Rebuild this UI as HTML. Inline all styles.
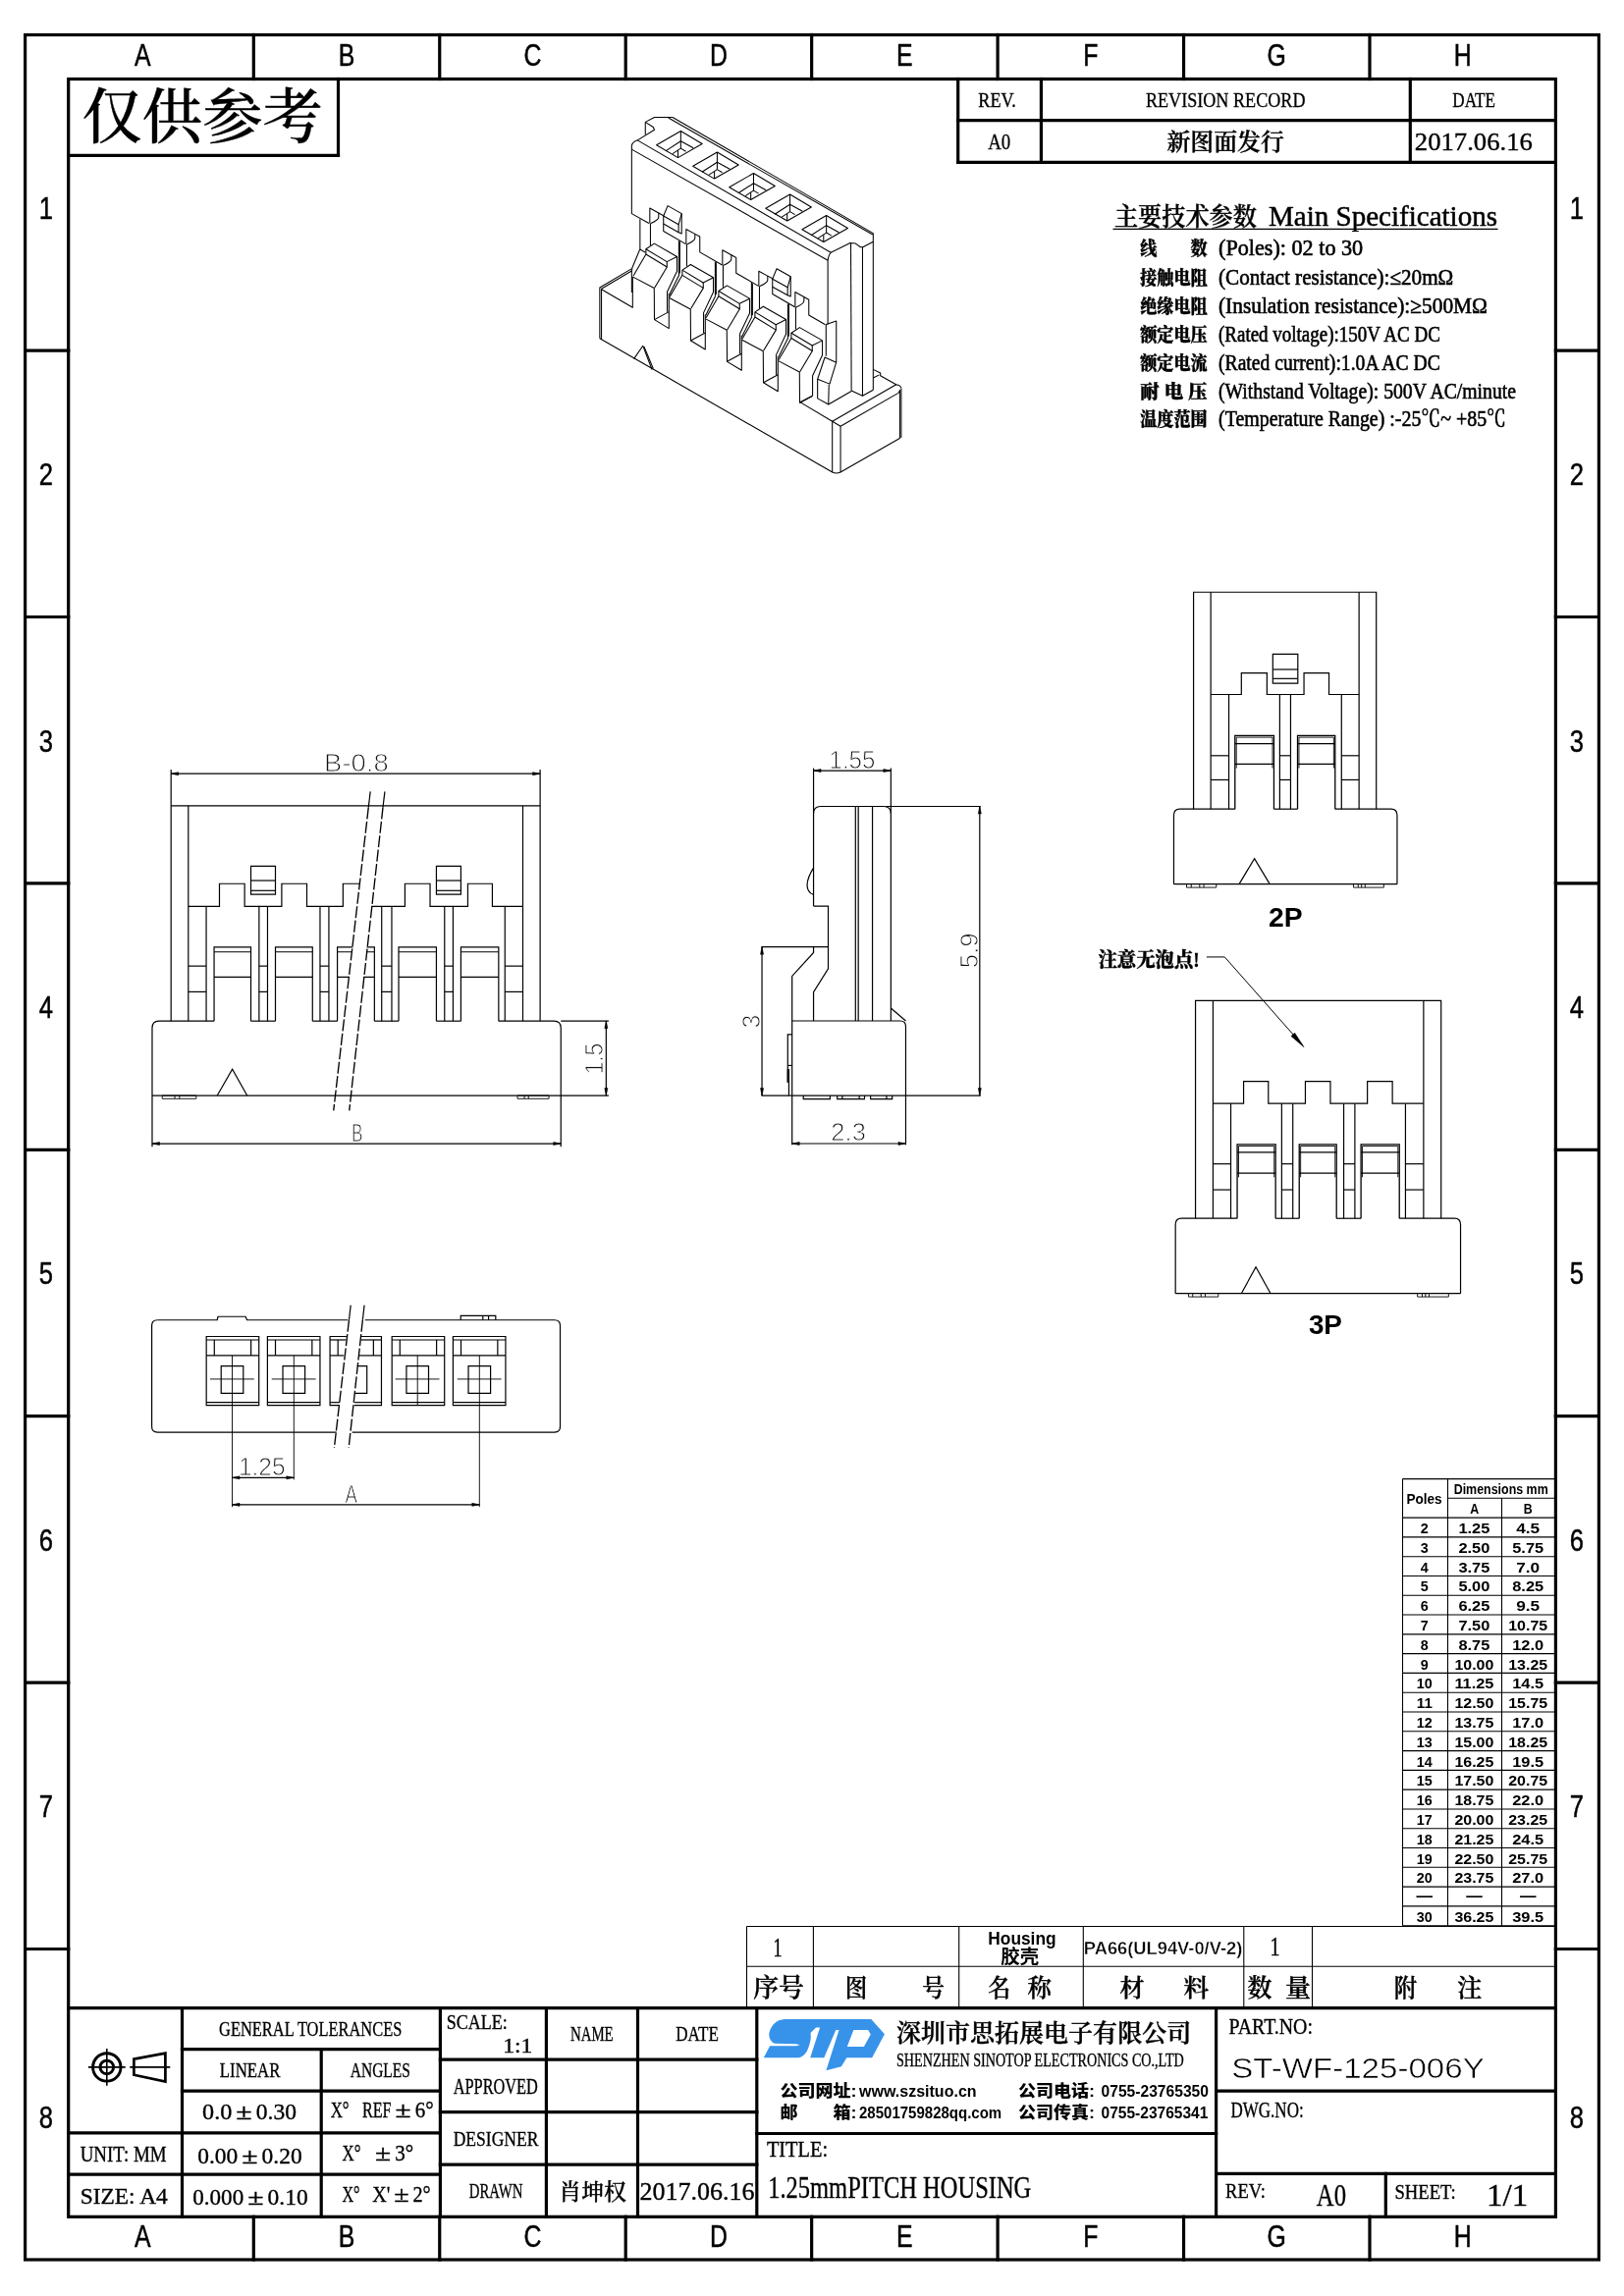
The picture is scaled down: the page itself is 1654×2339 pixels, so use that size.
<!DOCTYPE html>
<html lang="zh"><head><meta charset="utf-8"><title>ST-WF-125-006Y</title>
<style>
html,body{margin:0;padding:0;background:#fff}
svg{display:block}
text{filter:grayscale(1)}
text{fill:#000;stroke:none}
.s{font-family:"Liberation Serif","Noto Serif CJK SC",serif;stroke:#000;stroke-width:.35px}
.g{font-family:"Liberation Sans","Noto Sans CJK SC",sans-serif}
.z{stroke:#000;stroke-width:.5px}
.m{font-family:"Liberation Mono","Noto Sans CJK SC",monospace}
.d{fill:#111;stroke:#fff;stroke-width:0.9px}
</style></head><body>
<svg width="1654" height="2339" viewBox="0 0 1654 2339" fill="none" stroke="#000" stroke-width="1.2" stroke-linecap="butt">
<rect x="0" y="0" width="1654" height="2339" fill="#fff" stroke="none"/>
<g stroke-width="3.2" stroke-linecap="square">
<rect x="25.6" y="35.5" width="1602.8" height="2266.5"/>
<rect x="69.7" y="80.5" width="1514.7" height="2177.8"/>
<line x1="258.3" y1="35.5" x2="258.3" y2="80.5"/>
<line x1="258.3" y1="2258.3" x2="258.3" y2="2302"/>
<line x1="447.75" y1="35.5" x2="447.75" y2="80.5"/>
<line x1="447.75" y1="2258.3" x2="447.75" y2="2302"/>
<line x1="637.2" y1="35.5" x2="637.2" y2="80.5"/>
<line x1="637.2" y1="2258.3" x2="637.2" y2="2302"/>
<line x1="826.65" y1="35.5" x2="826.65" y2="80.5"/>
<line x1="826.65" y1="2258.3" x2="826.65" y2="2302"/>
<line x1="1016.1" y1="35.5" x2="1016.1" y2="80.5"/>
<line x1="1016.1" y1="2258.3" x2="1016.1" y2="2302"/>
<line x1="1205.55" y1="35.5" x2="1205.55" y2="80.5"/>
<line x1="1205.55" y1="2258.3" x2="1205.55" y2="2302"/>
<line x1="1395" y1="35.5" x2="1395" y2="80.5"/>
<line x1="1395" y1="2258.3" x2="1395" y2="2302"/>
<line x1="25.6" y1="357.1" x2="69.7" y2="357.1"/>
<line x1="1584.4" y1="357.1" x2="1628.4" y2="357.1"/>
<line x1="25.6" y1="628.5" x2="69.7" y2="628.5"/>
<line x1="1584.4" y1="628.5" x2="1628.4" y2="628.5"/>
<line x1="25.6" y1="899.9" x2="69.7" y2="899.9"/>
<line x1="1584.4" y1="899.9" x2="1628.4" y2="899.9"/>
<line x1="25.6" y1="1171.3" x2="69.7" y2="1171.3"/>
<line x1="1584.4" y1="1171.3" x2="1628.4" y2="1171.3"/>
<line x1="25.6" y1="1442.7" x2="69.7" y2="1442.7"/>
<line x1="1584.4" y1="1442.7" x2="1628.4" y2="1442.7"/>
<line x1="25.6" y1="1714.1" x2="69.7" y2="1714.1"/>
<line x1="1584.4" y1="1714.1" x2="1628.4" y2="1714.1"/>
<line x1="25.6" y1="1985.5" x2="69.7" y2="1985.5"/>
<line x1="1584.4" y1="1985.5" x2="1628.4" y2="1985.5"/>
<line x1="344.5" y1="80.5" x2="344.5" y2="158.3"/>
<line x1="69.7" y1="158.3" x2="344.5" y2="158.3"/>
<line x1="975.7" y1="80.5" x2="975.7" y2="165.3"/>
<line x1="1060.4" y1="80.5" x2="1060.4" y2="165.3"/>
<line x1="1436.3" y1="80.5" x2="1436.3" y2="165.3"/>
<line x1="975.7" y1="122.6" x2="1584.4" y2="122.6"/>
<line x1="975.7" y1="165.3" x2="1584.4" y2="165.3"/>
<line x1="69.7" y1="2045.6" x2="1584.4" y2="2045.6"/>
<line x1="185.5" y1="2045.6" x2="185.5" y2="2258.3"/>
<line x1="448.4" y1="2045.6" x2="448.4" y2="2258.3"/>
<line x1="556.4" y1="2045.6" x2="556.4" y2="2258.3"/>
<line x1="649.5" y1="2045.6" x2="649.5" y2="2258.3"/>
<line x1="770.8" y1="2045.6" x2="770.8" y2="2258.3"/>
<line x1="1238.6" y1="2045.6" x2="1238.6" y2="2258.3"/>
<line x1="327.2" y1="2087.6" x2="327.2" y2="2258.3"/>
<line x1="185.5" y1="2087.6" x2="448.4" y2="2087.6"/>
<line x1="185.5" y1="2130.1" x2="448.4" y2="2130.1"/>
<line x1="69.7" y1="2172.9" x2="448.4" y2="2172.9"/>
<line x1="69.7" y1="2215.1" x2="448.4" y2="2215.1"/>
<line x1="448.4" y1="2098.1" x2="770.8" y2="2098.1"/>
<line x1="448.4" y1="2151.6" x2="770.8" y2="2151.6"/>
<line x1="448.4" y1="2205.2" x2="770.8" y2="2205.2"/>
<line x1="770.8" y1="2173.5" x2="1238.6" y2="2173.5"/>
<line x1="1238.6" y1="2130.2" x2="1584.4" y2="2130.2"/>
<line x1="1238.6" y1="2214.4" x2="1584.4" y2="2214.4"/>
<line x1="1411.3" y1="2214.4" x2="1411.3" y2="2258.3"/>
</g>
<text x="145.3" y="66.6" font-size="31" class="g z" text-anchor="middle" transform="translate(145.3 0) scale(0.8 1) translate(-145.3 0)">A</text>
<text x="145.3" y="2289.5" font-size="31" class="g z" text-anchor="middle" transform="translate(145.3 0) scale(0.8 1) translate(-145.3 0)">A</text>
<text x="353" y="66.6" font-size="31" class="g z" text-anchor="middle" transform="translate(353 0) scale(0.8 1) translate(-353 0)">B</text>
<text x="353" y="2289.5" font-size="31" class="g z" text-anchor="middle" transform="translate(353 0) scale(0.8 1) translate(-353 0)">B</text>
<text x="542.45" y="66.6" font-size="31" class="g z" text-anchor="middle" transform="translate(542.45 0) scale(0.8 1) translate(-542.45 0)">C</text>
<text x="542.45" y="2289.5" font-size="31" class="g z" text-anchor="middle" transform="translate(542.45 0) scale(0.8 1) translate(-542.45 0)">C</text>
<text x="731.9" y="66.6" font-size="31" class="g z" text-anchor="middle" transform="translate(731.9 0) scale(0.8 1) translate(-731.9 0)">D</text>
<text x="731.9" y="2289.5" font-size="31" class="g z" text-anchor="middle" transform="translate(731.9 0) scale(0.8 1) translate(-731.9 0)">D</text>
<text x="921.35" y="66.6" font-size="31" class="g z" text-anchor="middle" transform="translate(921.35 0) scale(0.8 1) translate(-921.35 0)">E</text>
<text x="921.35" y="2289.5" font-size="31" class="g z" text-anchor="middle" transform="translate(921.35 0) scale(0.8 1) translate(-921.35 0)">E</text>
<text x="1110.8" y="66.6" font-size="31" class="g z" text-anchor="middle" transform="translate(1110.8 0) scale(0.8 1) translate(-1110.8 0)">F</text>
<text x="1110.8" y="2289.5" font-size="31" class="g z" text-anchor="middle" transform="translate(1110.8 0) scale(0.8 1) translate(-1110.8 0)">F</text>
<text x="1300.25" y="66.6" font-size="31" class="g z" text-anchor="middle" transform="translate(1300.25 0) scale(0.8 1) translate(-1300.25 0)">G</text>
<text x="1300.25" y="2289.5" font-size="31" class="g z" text-anchor="middle" transform="translate(1300.25 0) scale(0.8 1) translate(-1300.25 0)">G</text>
<text x="1489.7" y="66.6" font-size="31" class="g z" text-anchor="middle" transform="translate(1489.7 0) scale(0.8 1) translate(-1489.7 0)">H</text>
<text x="1489.7" y="2289.5" font-size="31" class="g z" text-anchor="middle" transform="translate(1489.7 0) scale(0.8 1) translate(-1489.7 0)">H</text>
<text x="46.8" y="222.9" font-size="32" class="g z" text-anchor="middle" transform="translate(46.8 0) scale(0.8 1) translate(-46.8 0)">1</text>
<text x="1606" y="222.9" font-size="32" class="g z" text-anchor="middle" transform="translate(1606 0) scale(0.8 1) translate(-1606 0)">1</text>
<text x="46.8" y="494.3" font-size="32" class="g z" text-anchor="middle" transform="translate(46.8 0) scale(0.8 1) translate(-46.8 0)">2</text>
<text x="1606" y="494.3" font-size="32" class="g z" text-anchor="middle" transform="translate(1606 0) scale(0.8 1) translate(-1606 0)">2</text>
<text x="46.8" y="765.7" font-size="32" class="g z" text-anchor="middle" transform="translate(46.8 0) scale(0.8 1) translate(-46.8 0)">3</text>
<text x="1606" y="765.7" font-size="32" class="g z" text-anchor="middle" transform="translate(1606 0) scale(0.8 1) translate(-1606 0)">3</text>
<text x="46.8" y="1037.1" font-size="32" class="g z" text-anchor="middle" transform="translate(46.8 0) scale(0.8 1) translate(-46.8 0)">4</text>
<text x="1606" y="1037.1" font-size="32" class="g z" text-anchor="middle" transform="translate(1606 0) scale(0.8 1) translate(-1606 0)">4</text>
<text x="46.8" y="1308.5" font-size="32" class="g z" text-anchor="middle" transform="translate(46.8 0) scale(0.8 1) translate(-46.8 0)">5</text>
<text x="1606" y="1308.5" font-size="32" class="g z" text-anchor="middle" transform="translate(1606 0) scale(0.8 1) translate(-1606 0)">5</text>
<text x="46.8" y="1579.9" font-size="32" class="g z" text-anchor="middle" transform="translate(46.8 0) scale(0.8 1) translate(-46.8 0)">6</text>
<text x="1606" y="1579.9" font-size="32" class="g z" text-anchor="middle" transform="translate(1606 0) scale(0.8 1) translate(-1606 0)">6</text>
<text x="46.8" y="1851.3" font-size="32" class="g z" text-anchor="middle" transform="translate(46.8 0) scale(0.8 1) translate(-46.8 0)">7</text>
<text x="1606" y="1851.3" font-size="32" class="g z" text-anchor="middle" transform="translate(1606 0) scale(0.8 1) translate(-1606 0)">7</text>
<text x="46.8" y="2167.6" font-size="32" class="g z" text-anchor="middle" transform="translate(46.8 0) scale(0.8 1) translate(-46.8 0)">8</text>
<text x="1606" y="2167.6" font-size="32" class="g z" text-anchor="middle" transform="translate(1606 0) scale(0.8 1) translate(-1606 0)">8</text>
<text x="83.5" y="140.5" font-size="61.5" class="s" textLength="245.5" lengthAdjust="spacingAndGlyphs" font-weight="500">仅供参考</text>
<text x="996.3" y="108.6" font-size="22" class="s" textLength="38.5" lengthAdjust="spacingAndGlyphs">REV.</text>
<text x="1166.9" y="108.6" font-size="22" class="s" textLength="162.6" lengthAdjust="spacingAndGlyphs">REVISION RECORD</text>
<text x="1479.3" y="108.9" font-size="22" class="s" textLength="43.7" lengthAdjust="spacingAndGlyphs">DATE</text>
<text x="1006.2" y="152.4" font-size="24" class="s" textLength="23.1" lengthAdjust="spacingAndGlyphs">A0</text>
<text x="1188.4" y="152.6" font-size="23.9" class="s" textLength="119.5" lengthAdjust="spacingAndGlyphs" font-weight="600">新图面发行</text>
<text x="1440.8" y="153" font-size="25.5" class="s" textLength="120.1" lengthAdjust="spacingAndGlyphs">2017.06.16</text>
<text x="223.1" y="2073.8" font-size="22" class="s" textLength="186.2" lengthAdjust="spacingAndGlyphs">GENERAL TOLERANCES</text>
<text x="223.8" y="2115.7" font-size="21" class="s" textLength="61.6" lengthAdjust="spacingAndGlyphs">LINEAR</text>
<text x="356.8" y="2115.7" font-size="21" class="s" textLength="61.1" lengthAdjust="spacingAndGlyphs">ANGLES</text>
<text x="206.11" y="2158.6" font-size="23" class="s" textLength="30.22" lengthAdjust="spacingAndGlyphs">0.0</text>
<text x="240.39" y="2158.6" font-size="23" class="s" textLength="16.42" lengthAdjust="spacingAndGlyphs">±</text>
<text x="260.86" y="2158.6" font-size="23" class="s" textLength="41.17" lengthAdjust="spacingAndGlyphs">0.30</text>
<text x="336.69" y="2156.8" font-size="23" class="s" textLength="18.92" lengthAdjust="spacingAndGlyphs">X°</text>
<text x="368.94" y="2156.8" font-size="23" class="s" textLength="29.67" lengthAdjust="spacingAndGlyphs">REF</text>
<text x="402.59" y="2156.8" font-size="23" class="s" textLength="16.12" lengthAdjust="spacingAndGlyphs">±</text>
<text x="422.69" y="2156.8" font-size="23" class="s" textLength="18.92" lengthAdjust="spacingAndGlyphs">6°</text>
<text x="81.7" y="2201.9" font-size="22.5" class="s" textLength="87.9" lengthAdjust="spacingAndGlyphs">UNIT: MM</text>
<text x="201.21" y="2203.6" font-size="23" class="s" textLength="40.98" lengthAdjust="spacingAndGlyphs">0.00</text>
<text x="246.22" y="2203.6" font-size="23" class="s" textLength="16.35" lengthAdjust="spacingAndGlyphs">±</text>
<text x="266.61" y="2203.6" font-size="23" class="s" textLength="40.98" lengthAdjust="spacingAndGlyphs">0.20</text>
<text x="348.49" y="2201" font-size="23" class="s" textLength="18.92" lengthAdjust="spacingAndGlyphs">X°</text>
<text x="382.14" y="2201" font-size="23" class="s" textLength="16.12" lengthAdjust="spacingAndGlyphs">±</text>
<text x="402.24" y="2201" font-size="23" class="s" textLength="18.92" lengthAdjust="spacingAndGlyphs">3°</text>
<text x="81.7" y="2244.8" font-size="22.5" class="s" textLength="89.1" lengthAdjust="spacingAndGlyphs">SIZE: A4</text>
<text x="196.31" y="2245.5" font-size="23" class="s" textLength="51.88" lengthAdjust="spacingAndGlyphs">0.000</text>
<text x="252.22" y="2245.5" font-size="23" class="s" textLength="16.35" lengthAdjust="spacingAndGlyphs">±</text>
<text x="272.61" y="2245.5" font-size="23" class="s" textLength="40.98" lengthAdjust="spacingAndGlyphs">0.10</text>
<text x="348.44" y="2243" font-size="23" class="s" textLength="18.13" lengthAdjust="spacingAndGlyphs">X°</text>
<text x="379.34" y="2243" font-size="23" class="s" textLength="18.13" lengthAdjust="spacingAndGlyphs">X'</text>
<text x="401.28" y="2243" font-size="23" class="s" textLength="15.45" lengthAdjust="spacingAndGlyphs">±</text>
<text x="420.54" y="2243" font-size="23" class="s" textLength="18.13" lengthAdjust="spacingAndGlyphs">2°</text>
<text x="454.8" y="2067.4" font-size="22" class="s" textLength="62" lengthAdjust="spacingAndGlyphs">SCALE:</text>
<text x="512.2" y="2091.1" font-size="22" class="s" textLength="30" lengthAdjust="spacingAndGlyphs">1:1</text>
<text x="580.9" y="2078.8" font-size="22" class="s" textLength="43.8" lengthAdjust="spacingAndGlyphs">NAME</text>
<text x="688.3" y="2079.3" font-size="22" class="s" textLength="43.6" lengthAdjust="spacingAndGlyphs">DATE</text>
<text x="461.7" y="2132.7" font-size="23" class="s" textLength="86.2" lengthAdjust="spacingAndGlyphs">APPROVED</text>
<text x="461.7" y="2185.7" font-size="22" class="s" textLength="86.7" lengthAdjust="spacingAndGlyphs">DESIGNER</text>
<text x="477.7" y="2239.4" font-size="22" class="s" textLength="54.7" lengthAdjust="spacingAndGlyphs">DRAWN</text>
<text x="569.3" y="2241.3" font-size="23.2" class="s" textLength="68.5" lengthAdjust="spacingAndGlyphs" font-weight="500">肖坤权</text>
<text x="651.6" y="2240.6" font-size="26" class="s" textLength="117" lengthAdjust="spacingAndGlyphs">2017.06.16</text>
<g stroke-width="2.9">
<circle cx="108.8" cy="2105.9" r="14.2"/>
<circle cx="108.8" cy="2105.9" r="6.8"/>
</g>
<g stroke-width="1.6">
<line x1="90" y1="2105.9" x2="127.7" y2="2105.9"/>
<line x1="108.8" y1="2087" x2="108.8" y2="2124.8"/>
<line x1="132.2" y1="2105.9" x2="173.3" y2="2105.9"/>
</g>
<path d="M136.4 2097.7 L168.4 2091.6 L168.4 2120.6 L136.4 2113.7 Z" stroke-width="2.7"/>
<g fill="#3793ea" stroke="none">
<path d="M799.4 2057.1 C790 2057.8 786.5 2063 784.1 2068.6 C782.3 2073.5 783.5 2079.5 788.9 2081.8 L811 2082.2 L814.8 2083.2 L811 2084.3 L784.1 2084.3 L777.8 2096.3 L811 2096.3 C817.5 2096.3 821 2092 823.2 2086.4 C825.2 2081 826.6 2075.5 825.5 2071 L831 2065.5 L831 2057.1 Z"/>
<path fill-rule="evenodd" d="M820 2057.1 L887.3 2057.1 L900.9 2072.2 L888.2 2096.2 L862.4 2096.2 L856.8 2105.3 L841.4 2109.2 L854.5 2067.9 L851.3 2067.9 L839.3 2096.3 L825.2 2096.3 L835.1 2065.5 L820 2065.5 Z M869.3 2067.9 L884.1 2067.9 L886.8 2072.5 L879.9 2084.9 L862.8 2084.9 Z"/>
</g>
<text x="913" y="2079.5" font-size="25" class="s" textLength="300.2" lengthAdjust="spacingAndGlyphs" font-weight="600">深圳市思拓展电子有限公司</text>
<text x="913" y="2104.8" font-size="19.5" class="s" textLength="292.8" lengthAdjust="spacingAndGlyphs">SHENZHEN SINOTOP ELECTRONICS CO.,LTD</text>
<text x="794.5" y="2135.6" font-size="16.5" class="g" textLength="78" lengthAdjust="spacingAndGlyphs" font-weight="900">公司网址:</text>
<text x="875" y="2135.6" font-size="17" class="g" textLength="119.6" lengthAdjust="spacingAndGlyphs" font-weight="700">www.szsituo.cn</text>
<text x="794.5" y="2158.2" font-size="16.5" class="g" textLength="78" lengthAdjust="spacingAndGlyphs" font-weight="900">邮　　箱:</text>
<text x="875" y="2158.2" font-size="17" class="g" textLength="145.2" lengthAdjust="spacingAndGlyphs" font-weight="700">28501759828qq.com</text>
<text x="1037.1" y="2135.6" font-size="16.5" class="g" textLength="78" lengthAdjust="spacingAndGlyphs" font-weight="900">公司电话:</text>
<text x="1121.5" y="2135.6" font-size="17" class="g" textLength="109.5" lengthAdjust="spacingAndGlyphs" font-weight="700">0755-23765350</text>
<text x="1037.1" y="2158.2" font-size="16.5" class="g" textLength="78" lengthAdjust="spacingAndGlyphs" font-weight="900">公司传真:</text>
<text x="1121.5" y="2158.2" font-size="17" class="g" textLength="108.9" lengthAdjust="spacingAndGlyphs" font-weight="700">0755-23765341</text>
<text x="780.9" y="2197.2" font-size="23" class="s" textLength="62.2" lengthAdjust="spacingAndGlyphs">TITLE:</text>
<text x="782.2" y="2238.7" font-size="31" class="s" textLength="268.1" lengthAdjust="spacingAndGlyphs">1.25mmPITCH HOUSING</text>
<text x="1251.5" y="2072" font-size="22.5" class="s" textLength="85.5" lengthAdjust="spacingAndGlyphs">PART.NO:</text>
<text x="1254.2" y="2116.9" font-size="30" class="g" textLength="257.6" lengthAdjust="spacingAndGlyphs" fill="#111" style="stroke:#fff;stroke-width:.55px">ST-WF-125-006Y</text>
<text x="1253.4" y="2156.9" font-size="22.5" class="s" textLength="74.3" lengthAdjust="spacingAndGlyphs">DWG.NO:</text>
<text x="1248.1" y="2239.2" font-size="22" class="s" textLength="40.8" lengthAdjust="spacingAndGlyphs">REV:</text>
<text x="1340.8" y="2246.5" font-size="31" class="s" textLength="30.2" lengthAdjust="spacingAndGlyphs">A0</text>
<text x="1420.4" y="2239.8" font-size="22" class="s" textLength="62.3" lengthAdjust="spacingAndGlyphs">SHEET:</text>
<text x="1514" y="2246.5" font-size="32" class="s" textLength="42.2" lengthAdjust="spacingAndGlyphs">1/1</text>
<g stroke-width="1.1">
<line x1="760.5" y1="1962.5" x2="1584.4" y2="1962.5"/>
<line x1="760.5" y1="2003.3" x2="1584.4" y2="2003.3"/>
<line x1="760.5" y1="1962.5" x2="760.5" y2="2045.6"/>
<line x1="828.4" y1="1962.5" x2="828.4" y2="2045.6"/>
<line x1="976.7" y1="1962.5" x2="976.7" y2="2045.6"/>
<line x1="1103.3" y1="1962.5" x2="1103.3" y2="2045.6"/>
<line x1="1266.8" y1="1962.5" x2="1266.8" y2="2045.6"/>
<line x1="1336.5" y1="1962.5" x2="1336.5" y2="2045.6"/>
</g>
<text x="787.4" y="1992.9" font-size="27" class="s" textLength="9" lengthAdjust="spacingAndGlyphs">1</text>
<text x="1293.5" y="1992.4" font-size="27" class="s" textLength="10" lengthAdjust="spacingAndGlyphs">1</text>
<text x="767.2" y="2033.5" font-size="26.5" class="s" textLength="51.5" lengthAdjust="spacingAndGlyphs" font-weight="600">序号</text>
<text x="860.8" y="2033.5" font-size="25" class="s" textLength="22.5" lengthAdjust="spacingAndGlyphs" font-weight="600">图</text>
<text x="939.3" y="2033.5" font-size="25" class="s" textLength="22.7" lengthAdjust="spacingAndGlyphs" font-weight="600">号</text>
<text x="1006.3" y="2033.5" font-size="25" class="s" textLength="23" lengthAdjust="spacingAndGlyphs" font-weight="600">名</text>
<text x="1046.5" y="2033.5" font-size="25" class="s" textLength="24.4" lengthAdjust="spacingAndGlyphs" font-weight="600">称</text>
<text x="1140.5" y="2033.5" font-size="25" class="s" textLength="25" lengthAdjust="spacingAndGlyphs" font-weight="600">材</text>
<text x="1205.6" y="2033.5" font-size="25" class="s" textLength="25.7" lengthAdjust="spacingAndGlyphs" font-weight="600">料</text>
<text x="1270.5" y="2033.5" font-size="25" class="s" textLength="25" lengthAdjust="spacingAndGlyphs" font-weight="600">数</text>
<text x="1309" y="2033.5" font-size="25" class="s" textLength="26" lengthAdjust="spacingAndGlyphs" font-weight="600">量</text>
<text x="1419.8" y="2033.5" font-size="25" class="s" textLength="23.5" lengthAdjust="spacingAndGlyphs" font-weight="600">附</text>
<text x="1484.2" y="2033.5" font-size="25" class="s" textLength="25" lengthAdjust="spacingAndGlyphs" font-weight="600">注</text>
<text x="1006.3" y="1981" font-size="17.5" class="g" textLength="69.3" lengthAdjust="spacingAndGlyphs" font-weight="700">Housing</text>
<text x="1019.3" y="1999.8" font-size="19" class="g" textLength="38.8" lengthAdjust="spacingAndGlyphs" font-weight="700">胶壳</text>
<text x="1103.8" y="1990.8" font-size="19" class="g" textLength="161.5" lengthAdjust="spacingAndGlyphs" font-weight="700" style="stroke:#fff;stroke-width:.4px">PA66(UL94V-0/V-2)</text>
<g stroke-width="1.1">
<line x1="1428.5" y1="1506.6" x2="1584.4" y2="1506.6"/>
<line x1="1474.5" y1="1526.3" x2="1584.4" y2="1526.3"/>
<line x1="1428.5" y1="1546.1" x2="1584.4" y2="1546.1"/>
<line x1="1428.5" y1="1565.89" x2="1584.4" y2="1565.89"/>
<line x1="1428.5" y1="1585.68" x2="1584.4" y2="1585.68"/>
<line x1="1428.5" y1="1605.47" x2="1584.4" y2="1605.47"/>
<line x1="1428.5" y1="1625.26" x2="1584.4" y2="1625.26"/>
<line x1="1428.5" y1="1645.05" x2="1584.4" y2="1645.05"/>
<line x1="1428.5" y1="1664.84" x2="1584.4" y2="1664.84"/>
<line x1="1428.5" y1="1684.63" x2="1584.4" y2="1684.63"/>
<line x1="1428.5" y1="1704.42" x2="1584.4" y2="1704.42"/>
<line x1="1428.5" y1="1724.21" x2="1584.4" y2="1724.21"/>
<line x1="1428.5" y1="1744" x2="1584.4" y2="1744"/>
<line x1="1428.5" y1="1763.79" x2="1584.4" y2="1763.79"/>
<line x1="1428.5" y1="1783.58" x2="1584.4" y2="1783.58"/>
<line x1="1428.5" y1="1803.37" x2="1584.4" y2="1803.37"/>
<line x1="1428.5" y1="1823.16" x2="1584.4" y2="1823.16"/>
<line x1="1428.5" y1="1842.95" x2="1584.4" y2="1842.95"/>
<line x1="1428.5" y1="1862.74" x2="1584.4" y2="1862.74"/>
<line x1="1428.5" y1="1882.53" x2="1584.4" y2="1882.53"/>
<line x1="1428.5" y1="1902.32" x2="1584.4" y2="1902.32"/>
<line x1="1428.5" y1="1922.11" x2="1584.4" y2="1922.11"/>
<line x1="1428.5" y1="1941.9" x2="1584.4" y2="1941.9"/>
<line x1="1428.5" y1="1961.69" x2="1584.4" y2="1961.69"/>
<line x1="1428.5" y1="1506.6" x2="1428.5" y2="1961.69"/>
<line x1="1474.5" y1="1506.6" x2="1474.5" y2="1961.69"/>
<line x1="1529.5" y1="1526.3" x2="1529.5" y2="1961.69"/>
</g>
<text x="1432.4" y="1532.3" font-size="15.5" class="g" textLength="36.3" lengthAdjust="spacingAndGlyphs" font-weight="700">Poles</text>
<text x="1480.7" y="1522" font-size="14.5" class="g" textLength="96" lengthAdjust="spacingAndGlyphs" font-weight="700">Dimensions mm</text>
<text x="1501.7" y="1541.9" font-size="15.5" class="g" text-anchor="middle" font-weight="700" transform="translate(1501.7 0) scale(0.8 1) translate(-1501.7 0)">A</text>
<text x="1556.3" y="1541.9" font-size="15.5" class="g" text-anchor="middle" font-weight="700" transform="translate(1556.3 0) scale(0.8 1) translate(-1556.3 0)">B</text>
<text x="1446.8" y="1562.1" font-size="15" class="g" textLength="8" lengthAdjust="spacingAndGlyphs" font-weight="700">2</text>
<text x="1485.4" y="1562.1" font-size="15" class="g" textLength="32" lengthAdjust="spacingAndGlyphs" font-weight="700">1.25</text>
<text x="1544.2" y="1562.1" font-size="15" class="g" textLength="24" lengthAdjust="spacingAndGlyphs" font-weight="700">4.5</text>
<text x="1446.8" y="1581.89" font-size="15" class="g" textLength="8" lengthAdjust="spacingAndGlyphs" font-weight="700">3</text>
<text x="1485.4" y="1581.89" font-size="15" class="g" textLength="32" lengthAdjust="spacingAndGlyphs" font-weight="700">2.50</text>
<text x="1540.2" y="1581.89" font-size="15" class="g" textLength="32" lengthAdjust="spacingAndGlyphs" font-weight="700">5.75</text>
<text x="1446.8" y="1601.68" font-size="15" class="g" textLength="8" lengthAdjust="spacingAndGlyphs" font-weight="700">4</text>
<text x="1485.4" y="1601.68" font-size="15" class="g" textLength="32" lengthAdjust="spacingAndGlyphs" font-weight="700">3.75</text>
<text x="1544.2" y="1601.68" font-size="15" class="g" textLength="24" lengthAdjust="spacingAndGlyphs" font-weight="700">7.0</text>
<text x="1446.8" y="1621.47" font-size="15" class="g" textLength="8" lengthAdjust="spacingAndGlyphs" font-weight="700">5</text>
<text x="1485.4" y="1621.47" font-size="15" class="g" textLength="32" lengthAdjust="spacingAndGlyphs" font-weight="700">5.00</text>
<text x="1540.2" y="1621.47" font-size="15" class="g" textLength="32" lengthAdjust="spacingAndGlyphs" font-weight="700">8.25</text>
<text x="1446.8" y="1641.26" font-size="15" class="g" textLength="8" lengthAdjust="spacingAndGlyphs" font-weight="700">6</text>
<text x="1485.4" y="1641.26" font-size="15" class="g" textLength="32" lengthAdjust="spacingAndGlyphs" font-weight="700">6.25</text>
<text x="1544.2" y="1641.26" font-size="15" class="g" textLength="24" lengthAdjust="spacingAndGlyphs" font-weight="700">9.5</text>
<text x="1446.8" y="1661.05" font-size="15" class="g" textLength="8" lengthAdjust="spacingAndGlyphs" font-weight="700">7</text>
<text x="1485.4" y="1661.05" font-size="15" class="g" textLength="32" lengthAdjust="spacingAndGlyphs" font-weight="700">7.50</text>
<text x="1536.2" y="1661.05" font-size="15" class="g" textLength="40" lengthAdjust="spacingAndGlyphs" font-weight="700">10.75</text>
<text x="1446.8" y="1680.84" font-size="15" class="g" textLength="8" lengthAdjust="spacingAndGlyphs" font-weight="700">8</text>
<text x="1485.4" y="1680.84" font-size="15" class="g" textLength="32" lengthAdjust="spacingAndGlyphs" font-weight="700">8.75</text>
<text x="1540.2" y="1680.84" font-size="15" class="g" textLength="32" lengthAdjust="spacingAndGlyphs" font-weight="700">12.0</text>
<text x="1446.8" y="1700.63" font-size="15" class="g" textLength="8" lengthAdjust="spacingAndGlyphs" font-weight="700">9</text>
<text x="1481.4" y="1700.63" font-size="15" class="g" textLength="40" lengthAdjust="spacingAndGlyphs" font-weight="700">10.00</text>
<text x="1536.2" y="1700.63" font-size="15" class="g" textLength="40" lengthAdjust="spacingAndGlyphs" font-weight="700">13.25</text>
<text x="1442.8" y="1720.42" font-size="15" class="g" textLength="16" lengthAdjust="spacingAndGlyphs" font-weight="700">10</text>
<text x="1481.4" y="1720.42" font-size="15" class="g" textLength="40" lengthAdjust="spacingAndGlyphs" font-weight="700">11.25</text>
<text x="1540.2" y="1720.42" font-size="15" class="g" textLength="32" lengthAdjust="spacingAndGlyphs" font-weight="700">14.5</text>
<text x="1442.8" y="1740.21" font-size="15" class="g" textLength="16" lengthAdjust="spacingAndGlyphs" font-weight="700">11</text>
<text x="1481.4" y="1740.21" font-size="15" class="g" textLength="40" lengthAdjust="spacingAndGlyphs" font-weight="700">12.50</text>
<text x="1536.2" y="1740.21" font-size="15" class="g" textLength="40" lengthAdjust="spacingAndGlyphs" font-weight="700">15.75</text>
<text x="1442.8" y="1760" font-size="15" class="g" textLength="16" lengthAdjust="spacingAndGlyphs" font-weight="700">12</text>
<text x="1481.4" y="1760" font-size="15" class="g" textLength="40" lengthAdjust="spacingAndGlyphs" font-weight="700">13.75</text>
<text x="1540.2" y="1760" font-size="15" class="g" textLength="32" lengthAdjust="spacingAndGlyphs" font-weight="700">17.0</text>
<text x="1442.8" y="1779.79" font-size="15" class="g" textLength="16" lengthAdjust="spacingAndGlyphs" font-weight="700">13</text>
<text x="1481.4" y="1779.79" font-size="15" class="g" textLength="40" lengthAdjust="spacingAndGlyphs" font-weight="700">15.00</text>
<text x="1536.2" y="1779.79" font-size="15" class="g" textLength="40" lengthAdjust="spacingAndGlyphs" font-weight="700">18.25</text>
<text x="1442.8" y="1799.58" font-size="15" class="g" textLength="16" lengthAdjust="spacingAndGlyphs" font-weight="700">14</text>
<text x="1481.4" y="1799.58" font-size="15" class="g" textLength="40" lengthAdjust="spacingAndGlyphs" font-weight="700">16.25</text>
<text x="1540.2" y="1799.58" font-size="15" class="g" textLength="32" lengthAdjust="spacingAndGlyphs" font-weight="700">19.5</text>
<text x="1442.8" y="1819.37" font-size="15" class="g" textLength="16" lengthAdjust="spacingAndGlyphs" font-weight="700">15</text>
<text x="1481.4" y="1819.37" font-size="15" class="g" textLength="40" lengthAdjust="spacingAndGlyphs" font-weight="700">17.50</text>
<text x="1536.2" y="1819.37" font-size="15" class="g" textLength="40" lengthAdjust="spacingAndGlyphs" font-weight="700">20.75</text>
<text x="1442.8" y="1839.16" font-size="15" class="g" textLength="16" lengthAdjust="spacingAndGlyphs" font-weight="700">16</text>
<text x="1481.4" y="1839.16" font-size="15" class="g" textLength="40" lengthAdjust="spacingAndGlyphs" font-weight="700">18.75</text>
<text x="1540.2" y="1839.16" font-size="15" class="g" textLength="32" lengthAdjust="spacingAndGlyphs" font-weight="700">22.0</text>
<text x="1442.8" y="1858.95" font-size="15" class="g" textLength="16" lengthAdjust="spacingAndGlyphs" font-weight="700">17</text>
<text x="1481.4" y="1858.95" font-size="15" class="g" textLength="40" lengthAdjust="spacingAndGlyphs" font-weight="700">20.00</text>
<text x="1536.2" y="1858.95" font-size="15" class="g" textLength="40" lengthAdjust="spacingAndGlyphs" font-weight="700">23.25</text>
<text x="1442.8" y="1878.74" font-size="15" class="g" textLength="16" lengthAdjust="spacingAndGlyphs" font-weight="700">18</text>
<text x="1481.4" y="1878.74" font-size="15" class="g" textLength="40" lengthAdjust="spacingAndGlyphs" font-weight="700">21.25</text>
<text x="1540.2" y="1878.74" font-size="15" class="g" textLength="32" lengthAdjust="spacingAndGlyphs" font-weight="700">24.5</text>
<text x="1442.8" y="1898.53" font-size="15" class="g" textLength="16" lengthAdjust="spacingAndGlyphs" font-weight="700">19</text>
<text x="1481.4" y="1898.53" font-size="15" class="g" textLength="40" lengthAdjust="spacingAndGlyphs" font-weight="700">22.50</text>
<text x="1536.2" y="1898.53" font-size="15" class="g" textLength="40" lengthAdjust="spacingAndGlyphs" font-weight="700">25.75</text>
<text x="1442.8" y="1918.32" font-size="15" class="g" textLength="16" lengthAdjust="spacingAndGlyphs" font-weight="700">20</text>
<text x="1481.4" y="1918.32" font-size="15" class="g" textLength="40" lengthAdjust="spacingAndGlyphs" font-weight="700">23.75</text>
<text x="1540.2" y="1918.32" font-size="15" class="g" textLength="32" lengthAdjust="spacingAndGlyphs" font-weight="700">27.0</text>
<text x="1450.8" y="1936.91" font-size="16.5" class="g" text-anchor="middle" font-weight="700">—</text>
<text x="1501.4" y="1936.91" font-size="16.5" class="g" text-anchor="middle" font-weight="700">—</text>
<text x="1556.2" y="1936.91" font-size="16.5" class="g" text-anchor="middle" font-weight="700">—</text>
<text x="1442.8" y="1957.9" font-size="15" class="g" textLength="16" lengthAdjust="spacingAndGlyphs" font-weight="700">30</text>
<text x="1481.4" y="1957.9" font-size="15" class="g" textLength="40" lengthAdjust="spacingAndGlyphs" font-weight="700">36.25</text>
<text x="1540.2" y="1957.9" font-size="15" class="g" textLength="32" lengthAdjust="spacingAndGlyphs" font-weight="700">39.5</text>
<text x="1134.9" y="229.5" font-size="26.5" class="s" textLength="145" lengthAdjust="spacingAndGlyphs" font-weight="600">主要技术参数</text>
<text x="1292" y="229.5" font-size="29.5" class="s" textLength="233" lengthAdjust="spacingAndGlyphs" style="stroke-width:.5px">Main Specifications</text>
<line x1="1133.5" y1="233.4" x2="1525.6" y2="233.4" stroke-width="1.3"/>
<text x="1161.2" y="260.4" font-size="19" class="s" textLength="68.5" lengthAdjust="spacingAndGlyphs" font-weight="900">线　　数</text>
<text x="1241" y="260.4" font-size="22.5" class="s" textLength="147.2" lengthAdjust="spacingAndGlyphs" style="stroke-width:.6px">(Poles): 02 to 30</text>
<text x="1161.2" y="289.5" font-size="19" class="s" textLength="68.5" lengthAdjust="spacingAndGlyphs" font-weight="900">接触电阻</text>
<text x="1241" y="289.5" font-size="22.5" class="s" textLength="239.3" lengthAdjust="spacingAndGlyphs" style="stroke-width:.6px">(Contact resistance):≤20mΩ</text>
<text x="1161.2" y="318.6" font-size="19" class="s" textLength="68.5" lengthAdjust="spacingAndGlyphs" font-weight="900">绝缘电阻</text>
<text x="1241" y="318.6" font-size="22.5" class="s" textLength="274" lengthAdjust="spacingAndGlyphs" style="stroke-width:.6px">(Insulation resistance):≥500MΩ</text>
<text x="1161.2" y="347.7" font-size="19" class="s" textLength="68.5" lengthAdjust="spacingAndGlyphs" font-weight="900">额定电压</text>
<text x="1241" y="347.7" font-size="22.5" class="s" textLength="225.8" lengthAdjust="spacingAndGlyphs" style="stroke-width:.6px">(Rated voltage):150V AC DC</text>
<text x="1161.2" y="376.8" font-size="19" class="s" textLength="68.5" lengthAdjust="spacingAndGlyphs" font-weight="900">额定电流</text>
<text x="1241" y="376.8" font-size="22.5" class="s" textLength="225.8" lengthAdjust="spacingAndGlyphs" style="stroke-width:.6px">(Rated current):1.0A AC DC</text>
<text x="1161.2" y="405.6" font-size="19" class="s" textLength="68.5" lengthAdjust="spacingAndGlyphs" font-weight="900">耐 电 压</text>
<text x="1241" y="405.6" font-size="22.5" class="s" textLength="303" lengthAdjust="spacingAndGlyphs" style="stroke-width:.6px">(Withstand Voltage): 500V AC/minute</text>
<text x="1161.2" y="434.2" font-size="19" class="s" textLength="68.5" lengthAdjust="spacingAndGlyphs" font-weight="900">温度范围</text>
<text x="1241" y="434.2" font-size="22.5" class="s" textLength="293" lengthAdjust="spacingAndGlyphs" style="stroke-width:.6px">(Temperature Range) :-25℃~ +85℃</text>
<line x1="174.19" y1="784.02" x2="174.19" y2="1040.18"/>
<line x1="550.11" y1="784.02" x2="550.11" y2="1040.18"/>
<line x1="174.19" y1="788.18" x2="550.11" y2="788.18"/>
<path d="M174.19 788.18 L181.69 786.68 L181.69 789.68 Z" stroke-width="0.6" fill="#000"/>
<path d="M550.11 788.18 L542.61 786.68 L542.61 789.68 Z" stroke-width="0.6" fill="#000"/>
<text x="330.13" y="785.62" font-size="25" class="g d" textLength="65.64" lengthAdjust="spacingAndGlyphs">B-0.8</text>
<line x1="174.19" y1="820.84" x2="550.11" y2="820.84"/>
<line x1="191.8" y1="820.84" x2="191.8" y2="1040.18"/>
<line x1="532.5" y1="820.84" x2="532.5" y2="1040.18"/>
<path d="M191.8 923.3 L223.5 923.3 L223.5 900.25 L249.12 900.25 L249.12 923.3 L286.9 923.3 L286.9 900.25 L312.52 900.25 L312.52 923.3 L349.34 923.3 L349.34 900.25 L374.96 900.25 L374.96 923.3 L412.42 923.3 L412.42 900.25 L438.04 900.25 L438.04 923.3 L476.46 923.3 L476.46 900.25 L501.44 900.25 L501.44 923.3 L532.5 923.3"/>
<path d="M255.52 882.32 L280.5 882.32 L280.5 911.14 L255.52 911.14 Z"/>
<line x1="255.52" y1="897.05" x2="280.5" y2="897.05"/>
<line x1="255.52" y1="907.29" x2="280.5" y2="907.29"/>
<path d="M444.44 882.32 L469.42 882.32 L469.42 911.14 L444.44 911.14 Z"/>
<line x1="444.44" y1="897.05" x2="469.42" y2="897.05"/>
<line x1="444.44" y1="907.29" x2="469.42" y2="907.29"/>
<line x1="210.05" y1="923.3" x2="210.05" y2="1040.18"/>
<line x1="514.25" y1="923.3" x2="514.25" y2="1040.18"/>
<line x1="263.85" y1="923.3" x2="263.85" y2="1040.18"/>
<line x1="272.49" y1="923.3" x2="272.49" y2="1040.18"/>
<line x1="263.85" y1="984.14" x2="272.49" y2="984.14"/>
<line x1="263.85" y1="1010.4" x2="272.49" y2="1010.4"/>
<line x1="325.97" y1="923.3" x2="325.97" y2="1040.18"/>
<line x1="334.93" y1="923.3" x2="334.93" y2="1040.18"/>
<line x1="325.97" y1="984.14" x2="334.93" y2="984.14"/>
<line x1="325.97" y1="1010.4" x2="334.93" y2="1010.4"/>
<line x1="388.73" y1="923.3" x2="388.73" y2="1040.18"/>
<line x1="398.97" y1="923.3" x2="398.97" y2="1040.18"/>
<line x1="388.73" y1="984.14" x2="398.97" y2="984.14"/>
<line x1="388.73" y1="1010.4" x2="398.97" y2="1010.4"/>
<line x1="452.77" y1="923.3" x2="452.77" y2="1040.18"/>
<line x1="461.41" y1="923.3" x2="461.41" y2="1040.18"/>
<line x1="452.77" y1="984.14" x2="461.41" y2="984.14"/>
<line x1="452.77" y1="1010.4" x2="461.41" y2="1010.4"/>
<line x1="191.8" y1="984.14" x2="210.05" y2="984.14"/>
<line x1="191.8" y1="1010.4" x2="210.05" y2="1010.4"/>
<line x1="514.25" y1="984.14" x2="532.5" y2="984.14"/>
<line x1="514.25" y1="1010.4" x2="532.5" y2="1010.4"/>
<path d="M218.06 1040.18 L218.06 964.93 L255.52 964.93 L255.52 1040.18"/>
<line x1="218.06" y1="969.73" x2="255.52" y2="969.73"/>
<line x1="218.06" y1="995.35" x2="255.52" y2="995.35"/>
<path d="M280.5 1040.18 L280.5 964.93 L318.28 964.93 L318.28 1040.18"/>
<line x1="280.5" y1="969.73" x2="318.28" y2="969.73"/>
<line x1="280.5" y1="995.35" x2="318.28" y2="995.35"/>
<path d="M343.58 1040.18 L343.58 964.93 L381.36 964.93 L381.36 1040.18"/>
<line x1="343.58" y1="969.73" x2="381.36" y2="969.73"/>
<line x1="343.58" y1="995.35" x2="381.36" y2="995.35"/>
<path d="M406.02 1040.18 L406.02 964.93 L444.44 964.93 L444.44 1040.18"/>
<line x1="406.02" y1="969.73" x2="444.44" y2="969.73"/>
<line x1="406.02" y1="995.35" x2="444.44" y2="995.35"/>
<path d="M469.42 1040.18 L469.42 964.93 L507.84 964.93 L507.84 1040.18"/>
<line x1="469.42" y1="969.73" x2="507.84" y2="969.73"/>
<line x1="469.42" y1="995.35" x2="507.84" y2="995.35"/>
<path d="M154.98 1116.07 L154.98 1047.22 Q154.98 1040.18 162.02 1040.18 L218.06 1040.18"/>
<path d="M571.24 1116.07 L571.24 1047.22 Q571.24 1040.18 564.2 1040.18 L507.84 1040.18"/>
<line x1="255.52" y1="1040.18" x2="280.5" y2="1040.18"/>
<line x1="318.28" y1="1040.18" x2="343.58" y2="1040.18"/>
<line x1="381.36" y1="1040.18" x2="406.02" y2="1040.18"/>
<line x1="444.44" y1="1040.18" x2="469.42" y2="1040.18"/>
<line x1="154.98" y1="1116.07" x2="619.91" y2="1116.07"/>
<path d="M165.22 1116.07 L199.8 1116.07 L199.8 1119.27 L165.22 1119.27 Z" stroke-width="0.9"/>
<line x1="178.03" y1="1116.07" x2="178.03" y2="1119.27" stroke-width="0.9"/>
<line x1="182.83" y1="1116.07" x2="182.83" y2="1119.27" stroke-width="0.9"/>
<path d="M527.05 1116.07 L559.07 1116.07 L559.07 1119.27 L527.05 1119.27 Z" stroke-width="0.9"/>
<line x1="534.1" y1="1116.07" x2="534.1" y2="1119.27" stroke-width="0.9"/>
<line x1="538.26" y1="1116.07" x2="538.26" y2="1119.27" stroke-width="0.9"/>
<path d="M221.26 1116.07 L236.63 1089.17 L251.68 1116.07"/>
<line x1="571.24" y1="1040.18" x2="619.91" y2="1040.18"/>
<line x1="617.35" y1="1040.18" x2="617.35" y2="1116.07"/>
<path d="M617.35 1040.18 L615.85 1047.68 L618.85 1047.68 Z" stroke-width="0.6" fill="#000"/>
<path d="M617.35 1116.07 L615.85 1108.57 L618.85 1108.57 Z" stroke-width="0.6" fill="#000"/>
<text x="614.15" y="1094.61" font-size="25" class="g d" textLength="32.02" lengthAdjust="spacingAndGlyphs" transform="rotate(-90 614.15 1094.61)">1.5</text>
<line x1="154.98" y1="1116.07" x2="154.98" y2="1168.26"/>
<line x1="571.24" y1="1116.07" x2="571.24" y2="1168.26"/>
<line x1="154.98" y1="1165.06" x2="571.24" y2="1165.06"/>
<path d="M154.98 1165.06 L162.48 1163.56 L162.48 1166.56 Z" stroke-width="0.6" fill="#000"/>
<path d="M571.24 1165.06 L563.74 1163.56 L563.74 1166.56 Z" stroke-width="0.6" fill="#000"/>
<text x="357.99" y="1162.5" font-size="25" class="g d" textLength="11.53" lengthAdjust="spacingAndGlyphs">B</text>
<path d="M375.88 822.76 L389.33 822.76 L365.36 1038.9 L351.02 1038.9 Z" stroke-width="0" fill="#fff"/>
<line x1="377.2" y1="806.43" x2="375.28" y2="822.44"/>
<line x1="391.93" y1="806.43" x2="390.01" y2="822.44"/>
<line x1="375.28" y1="822.44" x2="339.73" y2="1131.44" stroke-width="1.35" stroke-dasharray="12 2.5"/>
<line x1="390.01" y1="822.44" x2="355.74" y2="1131.44" stroke-width="1.35" stroke-dasharray="12 2.5"/>
<line x1="828.56" y1="782.59" x2="828.56" y2="828.59"/>
<line x1="907.34" y1="782.59" x2="907.34" y2="828.59"/>
<line x1="828.56" y1="785.08" x2="907.34" y2="785.08"/>
<path d="M828.56 785.08 L836.06 783.58 L836.06 786.58 Z" stroke-width="0.6" fill="#000"/>
<path d="M907.34 785.08 L899.84 783.58 L899.84 786.58 Z" stroke-width="0.6" fill="#000"/>
<text x="844.47" y="782.59" font-size="25" class="g d" textLength="46.96" lengthAdjust="spacingAndGlyphs">1.55</text>
<path d="M828.56 923.09 L828.56 828.78 Q828.56 821.5 835.84 821.5 L900.05 821.5 Q907.34 821.5 907.34 828.78 L907.34 1040.01"/>
<path d="M828.56 923.09 L843.51 923.09 L843.51 986.73 L828.56 1010.69 L828.56 1040.01"/>
<line x1="871.3" y1="821.5" x2="871.3" y2="1040.01"/>
<line x1="874.18" y1="821.5" x2="874.18" y2="1040.01"/>
<line x1="888.55" y1="821.5" x2="888.55" y2="1040.01"/>
<line x1="901.97" y1="821.5" x2="998.77" y2="821.5"/>
<path d="M828.56 884.18 Q822.42 893.76 822.04 901.43 Q822.04 909.1 828.56 911.4"/>
<line x1="775.46" y1="964.68" x2="843.51" y2="964.68"/>
<path d="M828.56 964.68 L828.56 970.43 L806.71 994.39 L806.71 1116.11"/>
<path d="M806.71 1040.01 L916.73 1040.01 Q922.48 1040.01 922.48 1045.76 L922.48 1116.11"/>
<line x1="907.34" y1="1026.98" x2="922.48" y2="1040.01"/>
<path d="M806.71 1053.81 L802.3 1053.81 L802.3 1102.69"/>
<line x1="802.3" y1="1085.44" x2="806.71" y2="1085.44"/>
<line x1="803.45" y1="1089.28" x2="803.45" y2="1116.11"/>
<line x1="802.68" y1="1089.28" x2="802.68" y2="1102.69" stroke-width="2"/>
<line x1="775.46" y1="1116.11" x2="998.77" y2="1116.11"/>
<path d="M818.21 1116.11 L818.21 1119.56 L845.42 1119.56 L845.42 1116.11"/>
<path d="M852.71 1116.11 L852.71 1119.56 L880.5 1119.56 L880.5 1116.11"/>
<path d="M886.64 1116.11 L886.64 1119.56 L908.68 1119.56 L908.68 1116.11"/>
<line x1="857.88" y1="1116.11" x2="857.88" y2="1119.56"/>
<line x1="875.14" y1="1116.11" x2="875.14" y2="1119.56"/>
<line x1="902.93" y1="1116.11" x2="902.93" y2="1119.56"/>
<line x1="776.04" y1="964.68" x2="776.04" y2="1116.11"/>
<path d="M776.04 964.68 L774.54 972.18 L777.54 972.18 Z" stroke-width="0.6" fill="#000"/>
<path d="M776.04 1116.11 L774.54 1108.61 L777.54 1108.61 Z" stroke-width="0.6" fill="#000"/>
<text x="774.12" y="1047.49" font-size="25" class="g d" textLength="13.8" lengthAdjust="spacingAndGlyphs" transform="rotate(-90 774.12 1047.49)">3</text>
<line x1="997.81" y1="821.5" x2="997.81" y2="1116.11"/>
<path d="M997.81 821.5 L996.31 829 L999.31 829 Z" stroke-width="0.6" fill="#000"/>
<path d="M997.81 1116.11 L996.31 1108.61 L999.31 1108.61 Z" stroke-width="0.6" fill="#000"/>
<text x="995.51" y="986.15" font-size="25" class="g d" textLength="35.84" lengthAdjust="spacingAndGlyphs" transform="rotate(-90 995.51 986.15)">5.9</text>
<line x1="806.71" y1="1116.11" x2="806.71" y2="1166.33"/>
<line x1="922.48" y1="1116.11" x2="922.48" y2="1166.33"/>
<line x1="806.71" y1="1164.99" x2="922.48" y2="1164.99"/>
<path d="M806.71 1164.99 L814.21 1163.49 L814.21 1166.49 Z" stroke-width="0.6" fill="#000"/>
<path d="M922.48 1164.99 L914.98 1163.49 L914.98 1166.49 Z" stroke-width="0.6" fill="#000"/>
<text x="846.38" y="1162.11" font-size="25" class="g d" textLength="35.46" lengthAdjust="spacingAndGlyphs">2.3</text>
<path d="M160.39 1344.73 L221.17 1344.73 L222.04 1341.26 L250.12 1341.26 L251.56 1344.73 L354.31 1344.73"/>
<path d="M371.68 1344.73 L564.73 1344.73 Q570.52 1344.73 570.52 1350.52 L570.52 1453.27 Q570.52 1459.06 564.73 1459.06 L358.65 1459.06"/>
<path d="M342.74 1459.06 L160.39 1459.06 Q154.6 1459.06 154.6 1453.27 L154.6 1350.52 Q154.6 1344.73 160.39 1344.73"/>
<path d="M469.22 1344.73 L469.22 1340.39 L504.82 1340.39 L504.82 1344.73"/>
<line x1="491.79" y1="1340.39" x2="491.79" y2="1344.73"/>
<line x1="497.58" y1="1340.39" x2="497.58" y2="1344.73"/>
<path d="M210.17 1361.52 L263.72 1361.52 L263.72 1431.56 L210.17 1431.56 Z"/>
<line x1="210.17" y1="1364.99" x2="263.72" y2="1364.99"/>
<line x1="210.17" y1="1380.91" x2="263.72" y2="1380.91"/>
<line x1="210.17" y1="1428.67" x2="263.72" y2="1428.67"/>
<line x1="218.28" y1="1364.99" x2="218.28" y2="1380.91"/>
<line x1="255.62" y1="1364.99" x2="255.62" y2="1380.91"/>
<path d="M225.22 1391.62 L247.8 1391.62 L247.8 1419.41 L225.22 1419.41 Z"/>
<line x1="213.94" y1="1404.93" x2="258.8" y2="1404.93" stroke-width="0.9"/>
<path d="M272.4 1361.52 L325.95 1361.52 L325.95 1431.56 L272.4 1431.56 Z"/>
<line x1="272.4" y1="1364.99" x2="325.95" y2="1364.99"/>
<line x1="272.4" y1="1380.91" x2="325.95" y2="1380.91"/>
<line x1="272.4" y1="1428.67" x2="325.95" y2="1428.67"/>
<line x1="280.51" y1="1364.99" x2="280.51" y2="1380.91"/>
<line x1="317.84" y1="1364.99" x2="317.84" y2="1380.91"/>
<path d="M288.03 1391.62 L310.61 1391.62 L310.61 1419.41 L288.03 1419.41 Z"/>
<line x1="276.74" y1="1404.93" x2="321.61" y2="1404.93" stroke-width="0.9"/>
<path d="M352.87 1361.52 L336.08 1361.52 L336.08 1431.56 L345.63 1431.56"/>
<path d="M367.92 1361.52 L388.47 1361.52 L388.47 1431.56 L360.68 1431.56"/>
<line x1="336.08" y1="1364.99" x2="352.29" y2="1364.99"/>
<line x1="367.92" y1="1364.99" x2="388.47" y2="1364.99"/>
<line x1="336.08" y1="1380.91" x2="349.97" y2="1380.91"/>
<line x1="365.89" y1="1380.91" x2="388.47" y2="1380.91"/>
<line x1="336.08" y1="1428.67" x2="345.92" y2="1428.67"/>
<line x1="360.97" y1="1428.67" x2="388.47" y2="1428.67"/>
<line x1="344.18" y1="1364.99" x2="344.18" y2="1380.91"/>
<line x1="380.36" y1="1364.99" x2="380.36" y2="1380.91"/>
<path d="M363.86 1391.62 L373.7 1391.62 L373.7 1419.41 L361.55 1419.41"/>
<path d="M399.18 1361.52 L452.72 1361.52 L452.72 1431.56 L399.18 1431.56 Z"/>
<line x1="399.18" y1="1364.99" x2="452.72" y2="1364.99"/>
<line x1="399.18" y1="1380.91" x2="452.72" y2="1380.91"/>
<line x1="399.18" y1="1428.67" x2="452.72" y2="1428.67"/>
<line x1="407.28" y1="1364.99" x2="407.28" y2="1380.91"/>
<line x1="444.62" y1="1364.99" x2="444.62" y2="1380.91"/>
<path d="M413.94 1391.62 L436.51 1391.62 L436.51 1419.41 L413.94 1419.41 Z"/>
<line x1="402.65" y1="1404.93" x2="447.51" y2="1404.93" stroke-width="0.9"/>
<path d="M461.4 1361.52 L514.95 1361.52 L514.95 1431.56 L461.4 1431.56 Z"/>
<line x1="461.4" y1="1364.99" x2="514.95" y2="1364.99"/>
<line x1="461.4" y1="1380.91" x2="514.95" y2="1380.91"/>
<line x1="461.4" y1="1428.67" x2="514.95" y2="1428.67"/>
<line x1="469.51" y1="1364.99" x2="469.51" y2="1380.91"/>
<line x1="506.85" y1="1364.99" x2="506.85" y2="1380.91"/>
<path d="M477.03 1391.62 L499.61 1391.62 L499.61 1419.41 L477.03 1419.41 Z"/>
<line x1="465.75" y1="1404.93" x2="510.61" y2="1404.93" stroke-width="0.9"/>
<line x1="236.51" y1="1380.91" x2="236.51" y2="1535.18" stroke-width="0.9"/>
<line x1="299.32" y1="1380.91" x2="299.32" y2="1507.4" stroke-width="0.9"/>
<line x1="488.32" y1="1380.91" x2="488.32" y2="1535.18" stroke-width="0.9"/>
<line x1="425.22" y1="1380.91" x2="425.22" y2="1431.56" stroke-width="0.9"/>
<line x1="236.51" y1="1505.37" x2="299.32" y2="1505.37"/>
<path d="M236.51 1505.37 L244.01 1503.87 L244.01 1506.87 Z" stroke-width="0.6" fill="#000"/>
<path d="M299.32 1505.37 L291.82 1503.87 L291.82 1506.87 Z" stroke-width="0.6" fill="#000"/>
<text x="242.88" y="1503.34" font-size="25" class="g d" textLength="47.76" lengthAdjust="spacingAndGlyphs">1.25</text>
<line x1="236.51" y1="1532.87" x2="488.32" y2="1532.87"/>
<path d="M236.51 1532.87 L244.01 1531.37 L244.01 1534.37 Z" stroke-width="0.6" fill="#000"/>
<path d="M488.32 1532.87 L480.82 1531.37 L480.82 1534.37 Z" stroke-width="0.6" fill="#000"/>
<text x="351.42" y="1530.55" font-size="25" class="g d" textLength="12.45" lengthAdjust="spacingAndGlyphs">A</text>
<line x1="357.21" y1="1329.68" x2="355.47" y2="1344.73"/>
<line x1="371.1" y1="1329.68" x2="369.36" y2="1344.73"/>
<line x1="355.47" y1="1344.73" x2="340.42" y2="1474.98" stroke-width="1.35" stroke-dasharray="12 2.5"/>
<line x1="369.36" y1="1344.73" x2="355.18" y2="1474.98" stroke-width="1.35" stroke-dasharray="12 2.5"/>
<path d="M1215.58 824.19 L1215.58 603.23 L1401.7 603.23 L1401.7 824.19"/>
<line x1="1233.14" y1="603.23" x2="1233.14" y2="824.19"/>
<line x1="1384.14" y1="603.23" x2="1384.14" y2="824.19"/>
<path d="M1233.14 707.48 L1264.31 707.48 L1264.31 685.67 L1290.37 685.67 L1290.37 707.48 L1328.05 707.48 L1328.05 685.67 L1353.54 685.67 L1353.54 707.48 L1384.14 707.48"/>
<path d="M1296.32 666.4 L1321.81 666.4 L1321.81 696.15 L1296.32 696.15 Z"/>
<line x1="1296.32" y1="681.98" x2="1321.81" y2="681.98"/>
<line x1="1296.32" y1="691.33" x2="1321.81" y2="691.33"/>
<line x1="1251.56" y1="707.48" x2="1251.56" y2="824.19"/>
<line x1="1366.29" y1="707.48" x2="1366.29" y2="824.19"/>
<line x1="1303.4" y1="707.48" x2="1303.4" y2="824.19"/>
<line x1="1314.45" y1="707.48" x2="1314.45" y2="824.19"/>
<line x1="1233.14" y1="769.8" x2="1251.56" y2="769.8"/>
<line x1="1233.14" y1="794.45" x2="1251.56" y2="794.45"/>
<line x1="1366.29" y1="769.8" x2="1384.14" y2="769.8"/>
<line x1="1366.29" y1="794.45" x2="1384.14" y2="794.45"/>
<line x1="1303.4" y1="769.8" x2="1314.45" y2="769.8"/>
<line x1="1303.4" y1="794.45" x2="1314.45" y2="794.45"/>
<path d="M1257.79 824.19 L1257.79 749.41 L1297.45 749.41 L1297.45 824.19" stroke-width="1.3"/>
<path d="M1259.21 782.55 L1259.21 751.1 L1296.03 751.1 L1296.03 782.55" stroke-width="0.9"/>
<line x1="1257.79" y1="757.62" x2="1297.45" y2="757.62"/>
<line x1="1257.79" y1="778.3" x2="1297.45" y2="778.3"/>
<path d="M1321.53 824.19 L1321.53 749.41 L1359.77 749.41 L1359.77 824.19" stroke-width="1.3"/>
<path d="M1322.95 782.55 L1322.95 751.1 L1358.36 751.1 L1358.36 782.55" stroke-width="0.9"/>
<line x1="1321.53" y1="757.62" x2="1359.77" y2="757.62"/>
<line x1="1321.53" y1="778.3" x2="1359.77" y2="778.3"/>
<path d="M1195.47 900.68 L1195.47 830.42 Q1195.47 824.19 1201.7 824.19 L1257.79 824.19"/>
<path d="M1422.95 900.68 L1422.95 830.42 Q1422.95 824.19 1416.71 824.19 L1359.77 824.19"/>
<line x1="1297.45" y1="824.19" x2="1321.53" y2="824.19"/>
<line x1="1195.47" y1="900.68" x2="1422.95" y2="900.68"/>
<path d="M1262.04 900.68 L1277.62 874.62 L1293.2 900.68"/>
<path d="M1208.5 900.68 L1208.5 904.08 L1238.81 904.08 L1238.81 900.68" stroke-width="0.9"/>
<line x1="1213.31" y1="900.68" x2="1213.31" y2="904.08" stroke-width="0.9"/>
<line x1="1221.81" y1="900.68" x2="1221.81" y2="904.08" stroke-width="0.9"/>
<line x1="1226.06" y1="900.68" x2="1226.06" y2="904.08" stroke-width="0.9"/>
<path d="M1378.47 900.68 L1378.47 904.08 L1409.35 904.08 L1409.35 900.68" stroke-width="0.9"/>
<line x1="1383.29" y1="900.68" x2="1383.29" y2="904.08" stroke-width="0.9"/>
<line x1="1386.69" y1="900.68" x2="1386.69" y2="904.08" stroke-width="0.9"/>
<line x1="1390.37" y1="900.68" x2="1390.37" y2="904.08" stroke-width="0.9"/>
<text x="1292" y="944" font-size="27.5" class="g" textLength="34.6" lengthAdjust="spacingAndGlyphs" font-weight="700">2P</text>
<path d="M1217.56 1241.22 L1217.56 1019.41 L1467.71 1019.41 L1467.71 1241.22"/>
<line x1="1235.41" y1="1019.41" x2="1235.41" y2="1241.22"/>
<line x1="1449.86" y1="1019.41" x2="1449.86" y2="1241.22"/>
<path d="M1235.41 1124.22 L1266.57 1124.22 L1266.57 1101.56 L1291.78 1101.56 L1291.78 1124.22 L1329.46 1124.22 L1329.46 1101.56 L1354.96 1101.56 L1354.96 1124.22 L1392.63 1124.22 L1392.63 1101.56 L1418.13 1101.56 L1418.13 1124.22 L1449.86 1124.22"/>
<line x1="1253.54" y1="1124.22" x2="1253.54" y2="1241.22"/>
<line x1="1431.44" y1="1124.22" x2="1431.44" y2="1241.22"/>
<line x1="1305.38" y1="1124.22" x2="1305.38" y2="1241.22"/>
<line x1="1316.71" y1="1124.22" x2="1316.71" y2="1241.22"/>
<line x1="1368.56" y1="1124.22" x2="1368.56" y2="1241.22"/>
<line x1="1379.89" y1="1124.22" x2="1379.89" y2="1241.22"/>
<line x1="1235.41" y1="1185.69" x2="1253.54" y2="1185.69"/>
<line x1="1235.41" y1="1212.04" x2="1253.54" y2="1212.04"/>
<line x1="1431.44" y1="1185.69" x2="1449.86" y2="1185.69"/>
<line x1="1431.44" y1="1212.04" x2="1449.86" y2="1212.04"/>
<line x1="1305.38" y1="1185.69" x2="1316.71" y2="1185.69"/>
<line x1="1305.38" y1="1212.04" x2="1316.71" y2="1212.04"/>
<line x1="1368.56" y1="1185.69" x2="1379.89" y2="1185.69"/>
<line x1="1368.56" y1="1212.04" x2="1379.89" y2="1212.04"/>
<path d="M1260.06 1241.22 L1260.06 1165.86 L1299.15 1165.86 L1299.15 1241.22" stroke-width="1.3"/>
<path d="M1261.47 1199.29 L1261.47 1167.56 L1297.73 1167.56 L1297.73 1199.29" stroke-width="0.9"/>
<line x1="1260.06" y1="1173.8" x2="1299.15" y2="1173.8"/>
<line x1="1260.06" y1="1195.04" x2="1299.15" y2="1195.04"/>
<path d="M1323.23 1241.22 L1323.23 1165.86 L1361.19 1165.86 L1361.19 1241.22" stroke-width="1.3"/>
<path d="M1324.65 1199.29 L1324.65 1167.56 L1359.77 1167.56 L1359.77 1199.29" stroke-width="0.9"/>
<line x1="1323.23" y1="1173.8" x2="1361.19" y2="1173.8"/>
<line x1="1323.23" y1="1195.04" x2="1361.19" y2="1195.04"/>
<path d="M1386.12 1241.22 L1386.12 1165.86 L1425.21 1165.86 L1425.21 1241.22" stroke-width="1.3"/>
<path d="M1387.54 1199.29 L1387.54 1167.56 L1423.8 1167.56 L1423.8 1199.29" stroke-width="0.9"/>
<line x1="1386.12" y1="1173.8" x2="1425.21" y2="1173.8"/>
<line x1="1386.12" y1="1195.04" x2="1425.21" y2="1195.04"/>
<path d="M1197.17 1317.71 L1197.17 1247.45 Q1197.17 1241.22 1203.4 1241.22 L1260.06 1241.22"/>
<path d="M1487.54 1317.71 L1487.54 1247.45 Q1487.54 1241.22 1481.3 1241.22 L1425.21 1241.22"/>
<line x1="1299.15" y1="1241.22" x2="1323.23" y2="1241.22"/>
<line x1="1361.19" y1="1241.22" x2="1386.12" y2="1241.22"/>
<line x1="1197.17" y1="1317.71" x2="1487.54" y2="1317.71"/>
<path d="M1264.31 1317.71 L1279.04 1290.79 L1294.05 1317.71"/>
<path d="M1210.48 1317.71 L1210.48 1321.1 L1240.79 1321.1 L1240.79 1317.71" stroke-width="0.9"/>
<line x1="1214.73" y1="1317.71" x2="1214.73" y2="1321.1" stroke-width="0.9"/>
<line x1="1223.23" y1="1317.71" x2="1223.23" y2="1321.1" stroke-width="0.9"/>
<line x1="1227.48" y1="1317.71" x2="1227.48" y2="1321.1" stroke-width="0.9"/>
<path d="M1443.63 1317.71 L1443.63 1321.1 L1475.35 1321.1 L1475.35 1317.71" stroke-width="0.9"/>
<line x1="1448.44" y1="1317.71" x2="1448.44" y2="1321.1" stroke-width="0.9"/>
<line x1="1451.84" y1="1317.71" x2="1451.84" y2="1321.1" stroke-width="0.9"/>
<line x1="1455.52" y1="1317.71" x2="1455.52" y2="1321.1" stroke-width="0.9"/>
<text x="1332.9" y="1359.3" font-size="27.5" class="g" textLength="34" lengthAdjust="spacingAndGlyphs" font-weight="700">3P</text>
<text x="1118.4" y="985.2" font-size="20.7" class="s" textLength="103.4" lengthAdjust="spacingAndGlyphs" font-weight="900">注意无泡点!</text>
<path d="M1228.9 974.93 L1247.31 974.93 L1326.63 1064.73" stroke-width="1"/>
<path d="M1328.05 1066.71 L1314.94 1055.6 L1318.69 1052.3 Z" stroke-width="0.5" fill="#000"/>
<g stroke-width="1.05" stroke-linejoin="round">
<path d="M657.27 136.95 L657.27 124.38 L666.5 119.46 L684.98 119.46"/>
<path d="M657.27 124.38 L665.27 129.56 L666.5 132.27 L649.26 142.86"/>
<path d="M649.26 142.86 Q643.72 144.95 643.35 148.65 L643.35 217.61 L660.96 227.46"/>
<line x1="684.98" y1="119.46" x2="889.31" y2="237.59"/>
<line x1="680.67" y1="120.07" x2="888.82" y2="238.94"/>
<line x1="649.26" y1="142.86" x2="846.21" y2="257.29"/>
<line x1="643.72" y1="152.34" x2="843.13" y2="265.3"/>
<path d="M843.13 330.57 L843.13 265.3 Q843.74 259.75 846.21 257.29 L865.91 247.44 L871.45 248.05 L876.38 251.75 L878.84 251.75 L889.31 246.21"/>
<line x1="889.31" y1="237.59" x2="889.31" y2="397.29"/>
<line x1="866.53" y1="247.68" x2="867.14" y2="397.91"/>
<line x1="878.47" y1="251.75" x2="878.47" y2="403.2"/>
<path d="M693.35 133.5 L668.6 147.78 L690.52 160.59 L715.15 146.55 Z"/>
<path d="M693.35 133.5 L693.35 151.11"/>
<path d="M677.83 153.82 L693.35 143.72 L706.16 150.74"/>
<path d="M684.98 156.65 L693.35 151.11 L698.52 154.19"/>
<path d="M690.52 153.2 L690.52 160.59"/>
<path d="M730.42 154.99 L705.67 169.27 L727.59 182.08 L752.22 168.04 Z"/>
<path d="M730.42 154.99 L730.42 172.6"/>
<path d="M714.9 175.31 L730.42 165.21 L743.23 172.23"/>
<path d="M722.04 178.14 L730.42 172.6 L735.59 175.68"/>
<path d="M727.59 174.69 L727.59 182.08"/>
<path d="M767.49 176.48 L742.73 190.76 L764.66 203.57 L789.29 189.53 Z"/>
<path d="M767.49 176.48 L767.49 194.09"/>
<path d="M751.97 196.8 L767.49 186.7 L780.3 193.72"/>
<path d="M759.11 199.63 L767.49 194.09 L772.66 197.17"/>
<path d="M764.66 196.18 L764.66 203.57"/>
<path d="M804.56 197.97 L779.8 212.25 L801.72 225.06 L826.35 211.02 Z"/>
<path d="M804.56 197.97 L804.56 215.58"/>
<path d="M789.04 218.29 L804.56 208.19 L817.36 215.21"/>
<path d="M796.18 221.12 L804.56 215.58 L809.73 218.66"/>
<path d="M801.72 217.67 L801.72 225.06"/>
<path d="M841.63 219.46 L816.87 233.74 L838.79 246.55 L863.42 232.51 Z"/>
<path d="M841.63 219.46 L841.63 237.07"/>
<path d="M826.11 239.78 L841.63 229.68 L854.43 236.7"/>
<path d="M833.25 242.61 L841.63 237.07 L846.8 240.15"/>
<path d="M838.79 239.16 L838.79 246.55"/>
<line x1="651.85" y1="223.15" x2="651.85" y2="253.69"/>
<path d="M661.82 227.46 L661.82 212.07 L670.81 217 L670.81 221.31 Q670.2 224.38 662.81 227.46"/>
<path d="M662.44 227.46 L662.44 250"/>
<path d="M670.81 217 L675.74 219.7 L675.74 235.47 L698.52 248.65"/>
<path d="M698.83 248.83 L698.83 233.44 L707.82 238.36 L707.82 242.67 Q707.2 245.75 699.82 248.83"/>
<path d="M699.45 248.83 L699.45 271.37"/>
<path d="M707.82 238.36 L712.75 241.07 L712.75 256.83 L735.53 270.01"/>
<path d="M735.84 270.2 L735.84 254.8 L744.83 259.73 L744.83 264.04 Q744.21 267.12 736.82 270.2"/>
<path d="M736.45 270.2 L736.45 292.73"/>
<path d="M744.83 259.73 L749.75 262.44 L749.75 278.2 L772.54 291.38"/>
<path d="M772.84 291.56 L772.84 276.17 L781.83 281.1 L781.83 285.41 Q781.22 288.49 773.83 291.56"/>
<path d="M773.46 291.56 L773.46 314.1"/>
<path d="M781.83 281.1 L786.76 283.81 L786.76 299.57 L809.54 312.75"/>
<path d="M809.85 312.93 L809.85 297.54 L818.84 302.46 L818.84 306.77 Q818.23 309.85 810.84 312.93"/>
<path d="M810.47 312.93 L810.47 335.47"/>
<path d="M818.84 302.46 L823.77 305.17 L823.77 320.94 L840.15 330.54"/>
<path d="M680.05 209.61 L694.21 217.61 L691.13 228.69 L675.74 220.07 Z"/>
<path d="M675.74 228.08 L691.13 236.7 L691.13 228.69"/>
<path d="M694.21 217.61 L694.21 237.93 L691.13 236.7"/>
<path d="M791.07 273.71 L805.23 281.71 L802.16 292.8 L786.76 284.17 Z"/>
<path d="M786.76 292.18 L802.16 300.8 L802.16 292.8"/>
<path d="M805.23 281.71 L805.23 302.03 L802.16 300.8"/>
<path d="M691.38 245.32 L691.38 279.93"/>
<path d="M692.36 245.94 L692.36 278.57"/>
<path d="M728.39 266.69 L728.39 301.29"/>
<path d="M729.37 267.3 L729.37 299.94"/>
<path d="M765.39 288.05 L765.39 322.66"/>
<path d="M766.38 288.67 L766.38 321.31"/>
<path d="M802.4 309.42 L802.4 344.03"/>
<path d="M803.39 310.04 L803.39 342.67"/>
<path d="M657.88 253.79 L666.38 248.13 L689.53 261.43 L679.19 266.6 Z"/>
<path d="M657.88 253.79 L657.88 258.97 L679.31 272.02 L679.19 266.6"/>
<path d="M679.31 272.02 L666.63 293.2"/>
<path d="M657.88 258.97 L645.07 281.01"/>
<path d="M644.7 282.12 L666.26 293.57 L666.5 325.59 L681.28 334.58 L681.28 299.11"/>
<path d="M666.5 325.59 L681.28 317.59"/>
<path d="M689.53 261.43 L689.53 276.21 L679.56 297.27 L679.56 317.83"/>
<path d="M691.75 279.9 L681.77 299.98"/>
<path d="M694.89 275.16 L703.39 269.5 L726.54 282.8 L716.19 287.97 Z"/>
<path d="M694.89 275.16 L694.89 280.33 L716.32 293.39 L716.19 287.97"/>
<path d="M716.32 293.39 L703.63 314.57"/>
<path d="M694.89 280.33 L682.08 302.38"/>
<path d="M681.71 303.49 L703.26 314.94 L703.51 346.96 L718.29 355.95 L718.29 320.48"/>
<path d="M703.51 346.96 L718.29 338.95"/>
<path d="M726.54 282.8 L726.54 297.57 L716.56 318.63 L716.56 339.2"/>
<path d="M728.76 301.27 L718.78 321.34"/>
<path d="M731.9 296.53 L740.39 290.86 L763.55 304.16 L753.2 309.33 Z"/>
<path d="M731.9 296.53 L731.9 301.7 L753.33 314.75 L753.2 309.33"/>
<path d="M753.33 314.75 L740.64 335.94"/>
<path d="M731.9 301.7 L719.09 323.74"/>
<path d="M718.72 324.85 L740.27 336.31 L740.52 368.33 L755.3 377.32 L755.3 341.85"/>
<path d="M740.52 368.33 L755.3 360.32"/>
<path d="M763.55 304.16 L763.55 318.94 L753.57 340 L753.57 360.57"/>
<path d="M765.76 322.64 L755.79 342.71"/>
<path d="M768.9 317.89 L777.4 312.23 L800.55 325.53 L790.21 330.7 Z"/>
<path d="M768.9 317.89 L768.9 323.07 L790.33 336.12 L790.21 330.7"/>
<path d="M790.33 336.12 L777.65 357.3"/>
<path d="M768.9 323.07 L756.1 345.11"/>
<path d="M755.73 346.22 L777.28 357.67 L777.52 389.69 L792.3 398.68 L792.3 363.21"/>
<path d="M777.52 389.69 L792.3 381.69"/>
<path d="M800.55 325.53 L800.55 340.31 L790.58 361.37 L790.58 381.93"/>
<path d="M802.77 344 L792.8 364.08"/>
<path d="M805.91 339.26 L814.41 333.6 L837.56 346.9 L827.22 352.07 Z"/>
<path d="M805.91 339.26 L805.91 344.43 L827.34 357.49 L827.22 352.07"/>
<path d="M827.34 357.49 L814.66 378.67"/>
<path d="M805.91 344.43 L793.1 366.48"/>
<path d="M792.73 367.59 L814.29 379.04 L814.53 410.44"/>
<path d="M814.53 410.44 L827.59 403.3"/>
<path d="M837.56 346.9 L837.56 361.67 L827.59 382.73 L827.59 403.3"/>
<path d="M651.85 253.67 L643.72 273.25 L643.72 275.1"/>
<path d="M651.85 254.04 L657.39 257.24"/>
<path d="M643.1 273.87 L610.84 292.96 L610.84 344.68"/>
<path d="M643.72 275.71 L612.56 294.19 L612.56 345.67"/>
<path d="M612.56 294.8 L644.33 313.28 L644.33 281.87"/>
<line x1="643.35" y1="274.48" x2="643.35" y2="297.88"/>
<path d="M645.57 365.62 L654.8 352.32 L664.04 376.45"/>
<line x1="656.03" y1="353.3" x2="665.27" y2="375.47"/>
<line x1="610.84" y1="344.68" x2="847.68" y2="481.03"/>
<path d="M847.68 429.31 L847.68 481.03 Q851.75 482.88 856.06 481.03 L856.06 434.24"/>
<path d="M856.06 481.03 L916.4 446.55 L916.4 397.29"/>
<path d="M917.88 445.94 L917.88 395.44"/>
<path d="M847.68 429.31 L912.71 391.75 Q917.02 392.36 917.88 395.44"/>
<path d="M856.06 434.24 L914.93 400.37 Q916.4 399.14 916.4 397.29"/>
<path d="M814.8 409.61 L847.68 429.31 L856.06 434.24"/>
<line x1="844.24" y1="391.75" x2="843.74" y2="412.07"/>
<path d="M832.66 386.21 L832.66 405.91 L843.74 412.07 L867.14 398.52"/>
<path d="M867.14 397.91 L878.47 403.2 L889.31 397.29"/>
<path d="M889.31 376.35 L896.7 380.05 L896.7 382.76 L912.71 391.75"/>
<path d="M889.31 384.98 L895.47 381.9"/>
<path d="M840.67 330.79 L851.75 327.09 L851.75 368.97 L844.98 391.13 L832.66 386.21 L840.05 364.04 L851.13 368.97"/>
<path d="M841.28 330.79 L841.28 362.81"/>
<path d="M814.8 409.61 L827.12 403.45"/>
</g>
</svg>
</body></html>
